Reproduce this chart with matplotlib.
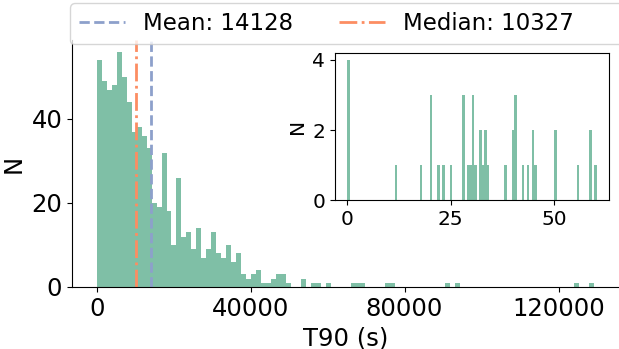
"""T90 distribution histogram with a zoomed inset of the short bursts."""

import matplotlib
matplotlib.use("Agg")
import matplotlib.pyplot as plt
import numpy as np
from matplotlib.lines import Line2D

# main histogram: 100 equal bins over the T90 range (seconds)
T90_RANGE = (60.0, 129300.0)
T90_COUNTS = [
    54, 49, 47, 48, 56, 50, 44, 37, 38, 36,
    33, 20, 19, 32, 18, 10, 26, 12, 13, 9,
    14, 7, 9, 13, 8, 7, 10, 6, 8, 3,
    2, 3, 4, 1, 1, 2, 3, 3, 1, 0,
    0, 2, 0, 1, 1, 0, 1, 0, 0, 0,
    0, 1, 1, 1, 0, 0, 0, 0, 1, 1,
    0, 0, 0, 0, 0, 0, 0, 0, 0, 0,
    1, 0, 1, 0, 0, 0, 0, 0, 0, 0,
    0, 0, 0, 0, 0, 0, 0, 0, 0, 0,
    0, 0, 0, 0, 0, 0, 1, 0, 0, 1,
]
MEAN_T90 = 14128
MEDIAN_T90 = 10327

# inset: short bursts, 100 bins over 0-60 s (only non-empty bins listed)
SHORT_RANGE = (0.05, 60.2)
SHORT_BIN = [0, 19, 29, 33, 36, 38, 41, 46, 48, 49, 50, 51, 53, 54,
             55, 56, 63, 66, 67, 70, 72, 74, 75, 83, 92, 97, 99]
SHORT_COUNT = [4, 1, 1, 3, 1, 1, 1, 3, 1, 1, 3, 1, 2, 1,
               2, 1, 1, 2, 3, 1, 1, 2, 1, 2, 1, 2, 1]

BAR_COLOR = "#7fbfa6"
MEAN_COLOR = "#8da0cb"
MEDIAN_COLOR = "#fc8d62"


def hist_from_counts(ax, counts, value_range, **kwargs):
    edges = np.linspace(value_range[0], value_range[1], len(counts) + 1)
    centers = 0.5 * (edges[:-1] + edges[1:])
    return ax.hist(centers, bins=edges, weights=counts, **kwargs)


fig = plt.figure(figsize=(6.19, 3.49), dpi=100)
ax = fig.add_axes([0.1163, 0.1777, 0.884, 0.7077])

hist_from_counts(ax, T90_COUNTS, T90_RANGE, color=BAR_COLOR, linewidth=0)
mean_line = ax.axvline(MEAN_T90, color=MEAN_COLOR, linestyle="--", linewidth=2)
median_line = ax.axvline(MEDIAN_T90, color=MEDIAN_COLOR, linestyle="-.",
                         linewidth=2)

ax.set_xticks([0, 40000, 80000, 120000])
ax.set_yticks([0, 20, 40])
ax.tick_params(labelsize=17.5)
ax.set_xlabel("T90 (s)", fontsize=17.5)
ax.set_ylabel("N", fontsize=17.5)
ax.spines["top"].set_visible(False)
ax.spines["right"].set_visible(False)

# empty third column so the legend frame runs past the right edge
spacer = Line2D([], [], linestyle="none")
fig.legend(handles=[mean_line, median_line, spacer],
           labels=[f"Mean: {MEAN_T90}", f"Median: {MEDIAN_T90}", ""],
           loc="upper left", bbox_to_anchor=(70 / 619, 1 - 3 / 349),
           borderaxespad=0, ncol=3, fontsize=16.5)

# inset with short T90 values
ins = fig.add_axes([0.541, 0.426, 0.443, 0.423])
short_counts = np.zeros(100)
short_counts[SHORT_BIN] = SHORT_COUNT
hist_from_counts(ins, short_counts, SHORT_RANGE, color=BAR_COLOR)
ins.set_xticks([0, 25, 50])
ins.set_yticks([0, 2, 4])
ins.tick_params(labelsize=14.5)
ins.set_ylabel("N", fontsize=14.5)

fig.savefig("out.png", dpi=100)
plt.close(fig)
